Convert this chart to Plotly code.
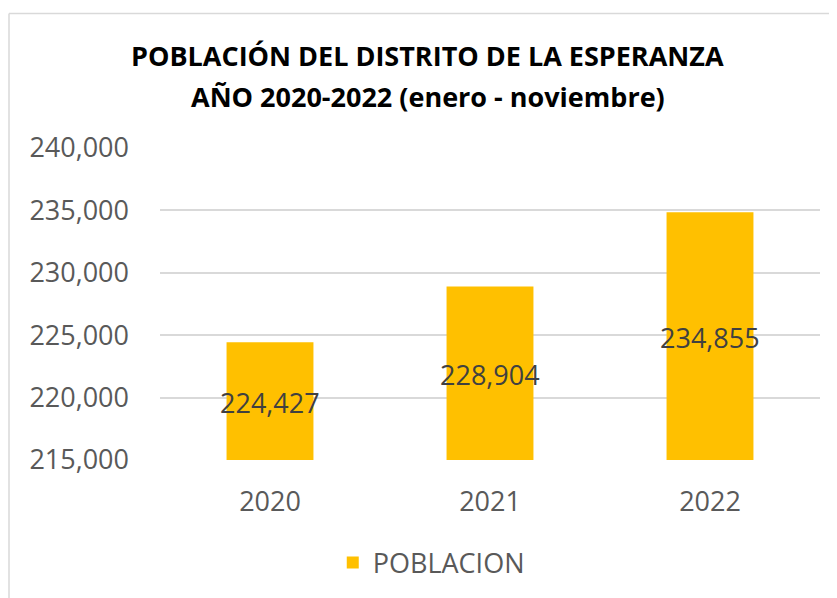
import plotly.graph_objects as go

years = ["2020", "2021", "2022"]
poblacion = [224427, 228904, 234855]
labels = ["224,427", "228,904", "234,855"]
axis_min = 215000
axis_max = 240000
tick_vals = [215000, 220000, 225000, 230000, 235000, 240000]
tick_text = ["215,000", "220,000", "225,000", "230,000", "235,000", "240,000"]

FONT = "Open Sans, sans-serif"

fig = go.Figure()
fig.add_trace(go.Bar(
    x=years, y=poblacion, name="POBLACION",
    marker=dict(color="#FFC000", line=dict(width=0)),
    width=0.395, showlegend=True, hoverinfo="x+y",
))

# data labels centred inside each bar (between axis base and bar top)
label_annotations = [
    dict(x=i, y=(axis_min + v) / 2, xref="x", yref="y", text=lab,
         showarrow=False, xanchor="center", yanchor="middle", yshift=-1,
         font=dict(family=FONT, size=27, color="#404040"))
    for i, (v, lab) in enumerate(zip(poblacion, labels))
]

title_annotations = [
    dict(text="<b>POBLACIÓN DEL DISTRITO DE LA ESPERANZA</b>",
         xref="paper", yref="paper", x=0.406, y=1 + 93/313,
         xanchor="center", yanchor="middle", showarrow=False,
         font=dict(family=FONT, size=27, color="black")),
    dict(text="<b>AÑO 2020-2022 (enero - noviembre)</b>",
         xref="paper", yref="paper", x=0.406, y=1 + 52/313,
         xanchor="center", yanchor="middle", showarrow=False,
         font=dict(family=FONT, size=27, color="black")),
]

fig.update_layout(
    width=829, height=590,
    paper_bgcolor="white", plot_bgcolor="white",
    margin=dict(l=152, r=17, t=140, b=137),
    xaxis=dict(
        type="category", range=[-0.5, 2.5],
        showgrid=False, showline=False, ticks="",
        tickfont=dict(family=FONT, size=27, color="#595959"),
        ticklabelstandoff=23,
    ),
    yaxis=dict(
        range=[axis_min, axis_max], tickvals=tick_vals, ticktext=tick_text,
        showgrid=True, gridcolor="#D9D9D9", gridwidth=1.5,
        zeroline=False, showline=False, ticks="",
        tickfont=dict(family=FONT, size=27, color="#595959"),
        ticklabelstandoff=30,
    ),
    legend=dict(
        orientation="h", x=0.411, xanchor="center", y=-0.326, yanchor="middle",
        font=dict(family=FONT, size=27, color="#595959"),
        itemwidth=30,
    ),
    annotations=title_annotations + label_annotations,
    shapes=[
        dict(type="line", xref="paper", yref="paper",
             x0=-151/660, x1=1.2, y0=1 + 135/313, y1=1 + 135/313,
             line=dict(color="#D9D9D9", width=1.5)),
        dict(type="line", xref="paper", yref="paper",
             x0=-151/660, x1=-151/660, y0=1 + 135/313, y1=-0.5,
             line=dict(color="#D9D9D9", width=1.5)),
    ],
)

fig.write_html("out.html")
